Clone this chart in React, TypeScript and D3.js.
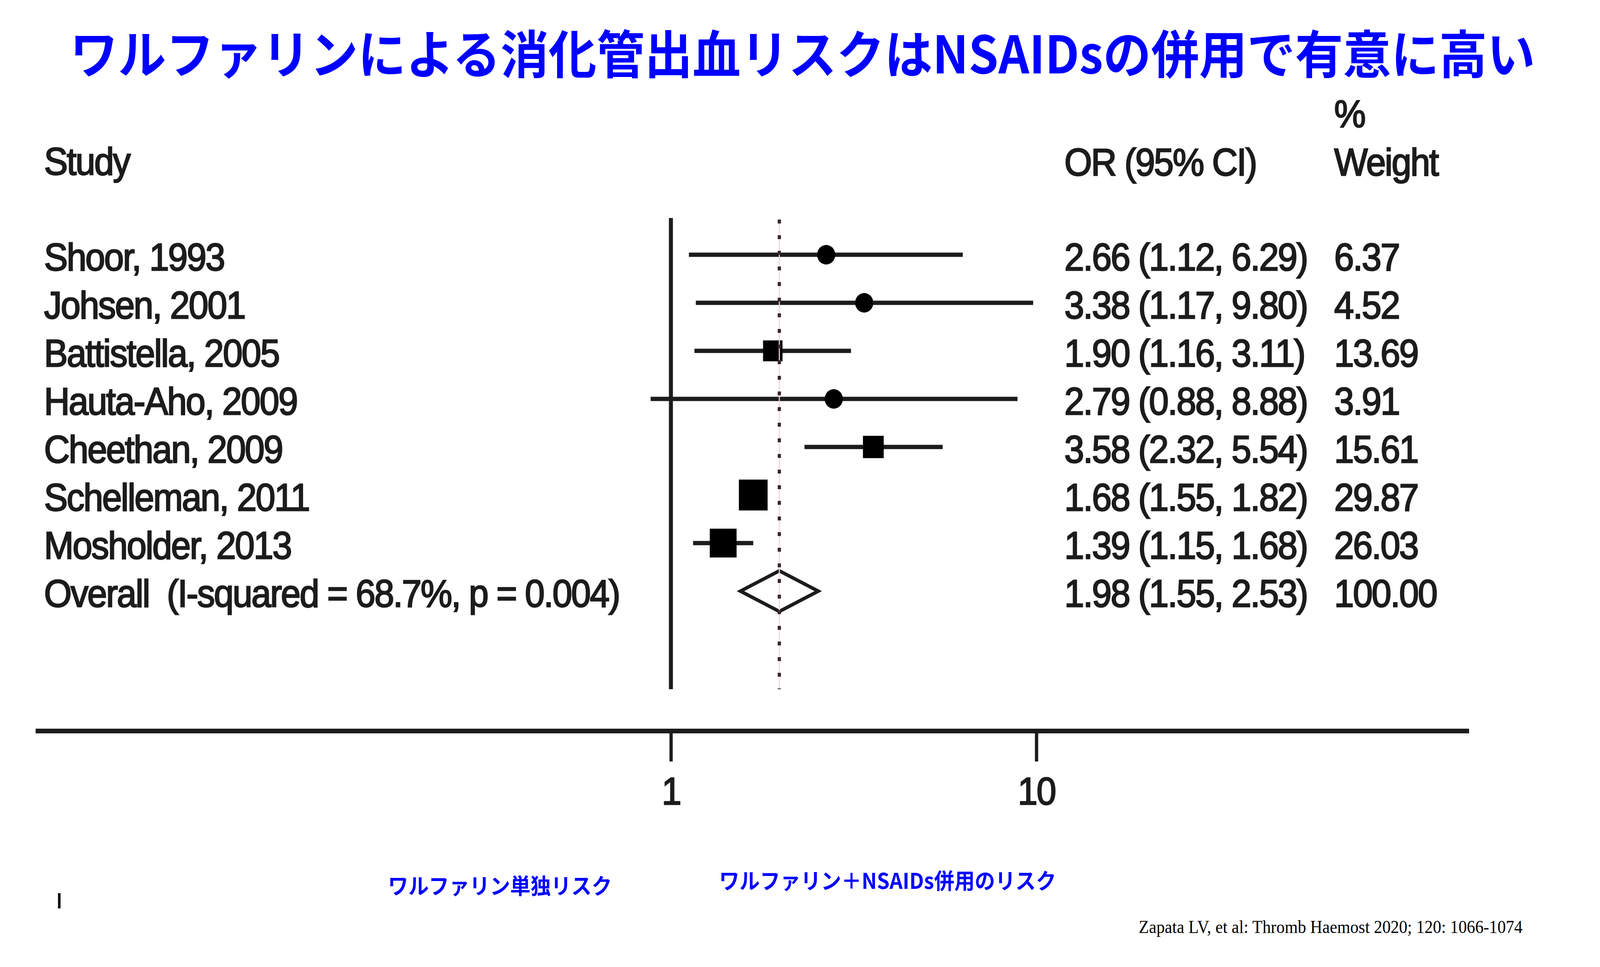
import { useEffect, useRef } from 'react';
import * as d3 from 'd3';

// Study rows, top to bottom
const studies = [
  'Shoor, 1993',
  'Johsen, 2001',
  'Battistella, 2005',
  'Hauta-Aho, 2009',
  'Cheethan, 2009',
  'Schelleman, 2011',
  'Mosholder, 2013',
];
const estimates = [2.66, 3.38, 1.9, 2.79, 3.58, 1.68, 1.39];
const lower = [1.12, 1.17, 1.16, 0.88, 2.32, 1.55, 1.15];
const upper = [6.29, 9.8, 3.11, 8.88, 5.54, 1.82, 1.68];
const weights = [6.37, 4.52, 13.69, 3.91, 15.61, 29.87, 26.03];

const overallLabel = 'Overall  (I-squared = 68.7%, p = 0.004)';
const overall = { est: 1.98, lo: 1.55, hi: 2.53, weight: 100.0 };

const xTicks = [1, 10];

const W = 4400;
const H = 2475;
const BLUE = '#0000ff';
const INK = '#1c1c1c';
const SANS = '"Liberation Sans", Arial, Helvetica, sans-serif';
const CJK = '"Noto Sans CJK JP", "Noto Sans", sans-serif';

const fmt = (v: number) => v.toFixed(2);

export default function App() {
  const axisRef = useRef<SVGGElement>(null);

  const x = d3.scaleLog().domain([1, 10]).range([1845, 2850]);
  const y = d3
    .scalePoint<number>()
    .domain(d3.range(studies.length + 1))
    .range([652, 1513]);
  // box area proportional to weight
  const boxSide = d3.scaleSqrt().domain([0, 29.87]).range([0, 79]);

  const plotTop = 558;
  const plotBottom = 1764;
  const axisY = 1871;
  const labelX = 121;
  const orX = 2927;
  const wtX = 3669;
  const textOffset = 40;
  const overallY = y(studies.length)!;

  useEffect(() => {
    document.body.style.margin = '0';
    document.body.style.overflow = 'hidden';
  }, []);

  useEffect(() => {
    if (!axisRef.current) return;
    const g = d3.select(axisRef.current);
    g.selectAll('*').remove();
    const axis = d3
      .axisBottom(x)
      .tickValues(xTicks)
      .tickSize(78)
      .tickPadding(40)
      .tickFormat((d) => String(d));
    g.call(axis);
    g.attr('font-family', SANS).attr('font-size', 98);
    g.select('.domain').remove();
    g.selectAll('.tick line').attr('stroke', INK).attr('stroke-width', 9);
    g.selectAll('.tick text')
      .attr('fill', INK)
      .attr('stroke', INK)
      .attr('stroke-width', 3)
      .attr('letter-spacing', -3);
  }, []);

  const textStyle = {
    fontFamily: SANS,
    fontSize: 98,
    letterSpacing: -3,
    fill: INK,
    stroke: INK,
    strokeWidth: 3,
  } as const;

  return (
    <svg
      width="100vw"
      height="100vh"
      viewBox={`0 0 ${W} ${H}`}
      preserveAspectRatio="none"
      style={{ position: 'absolute', left: 0, top: 0, display: 'block', background: '#fff' }}
    >
      <rect width={W} height={H} fill="#fff" />

      {/* タイトル */}
      <text
        x={2207}
        y={188}
        textAnchor="middle"
        fontFamily={CJK}
        fontWeight={700}
        fontSize={132}
        fill={BLUE}
      >
        ワルファリンによる消化管出血リスクはNSAIDsの併用で有意に高い
      </text>

      {/* column headers */}
      <g style={textStyle}>
        <text x={labelX} y={447}>Study</text>
        <text x={orX} y={449}>OR (95% CI)</text>
        <text x={wtX} y={325}>%</text>
        <text x={wtX} y={449}>Weight</text>
      </g>

      {/* study labels and numbers */}
      <g style={textStyle}>
        {studies.map((s, i) => (
          <g key={s}>
            <text x={labelX} y={y(i)! + textOffset}>{s}</text>
            <text x={orX} y={y(i)! + textOffset}>
              {`${fmt(estimates[i])} (${fmt(lower[i])}, ${fmt(upper[i])})`}
            </text>
            <text x={wtX} y={y(i)! + textOffset}>{fmt(weights[i])}</text>
          </g>
        ))}
        <text x={labelX} y={overallY + textOffset} style={{ whiteSpace: 'pre' }}>
          {overallLabel}
        </text>
        <text x={orX} y={overallY + textOffset}>
          {`${fmt(overall.est)} (${fmt(overall.lo)}, ${fmt(overall.hi)})`}
        </text>
        <text x={wtX} y={overallY + textOffset}>{fmt(overall.weight)}</text>
      </g>

      {/* no-effect line */}
      <line
        x1={x(1)}
        x2={x(1)}
        y1={plotTop}
        y2={plotBottom}
        stroke={INK}
        strokeWidth={11}
      />

      {/* confidence intervals and markers */}
      {studies.map((s, i) => {
        const cy = y(i)!;
        const side = boxSide(weights[i]);
        return (
          <g key={s}>
            <line
              x1={x(lower[i])}
              x2={x(upper[i])}
              y1={cy}
              y2={cy}
              stroke={INK}
              strokeWidth={11}
            />
            <rect
              x={x(estimates[i]) - side / 2}
              y={cy - side / 2}
              width={side}
              height={side}
              fill="#000"
            />
            <circle cx={x(estimates[i])} cy={cy} r={25} fill="#000" />
          </g>
        );
      })}

      {/* overall diamond */}
      <path
        d={`M${x(overall.lo)},${overallY} L${x(overall.est)},${overallY - 52} L${x(overall.hi)},${overallY} L${x(overall.est)},${overallY + 52} Z`}
        fill="#fff"
        stroke={INK}
        strokeWidth={9}
      />

      {/* overall effect line */}
      <line
        x1={x(overall.est)}
        x2={x(overall.est)}
        y1={plotTop}
        y2={plotBottom}
        stroke="#f2d2df"
        strokeWidth={3}
      />
      <line
        x1={x(overall.est)}
        x2={x(overall.est)}
        y1={plotTop + 4}
        y2={plotBottom}
        stroke="#3a2730"
        strokeWidth={9}
        strokeDasharray="10 30"
      />

      {/* x axis */}
      <line x1={98} x2={4040} y1={axisY} y2={axisY} stroke={INK} strokeWidth={12} />
      <g ref={axisRef} transform={`translate(0,${axisY})`} />

      {/* 注釈 */}
      <text
        x={1375}
        y={2288}
        textAnchor="middle"
        fontFamily={CJK}
        fontWeight={700}
        fontSize={56}
        fill={BLUE}
      >
        ワルファリン単独リスク
      </text>
      <text
        x={2441}
        y={2275}
        textAnchor="middle"
        fontFamily={CJK}
        fontWeight={700}
        fontSize={56}
        fill={BLUE}
      >
        ワルファリン＋NSAIDs併用のリスク
      </text>
      <line x1={163} x2={163} y1={2286} y2={2325} stroke="#000" strokeWidth={7} />
      <text
        x={4187}
        y={2388}
        textAnchor="end"
        fontFamily='"Liberation Serif", "Times New Roman", serif'
        fontSize={46}
        fill="#000"
      >
        Zapata LV, et al: Thromb Haemost 2020; 120: 1066-1074
      </text>
    </svg>
  );
}
